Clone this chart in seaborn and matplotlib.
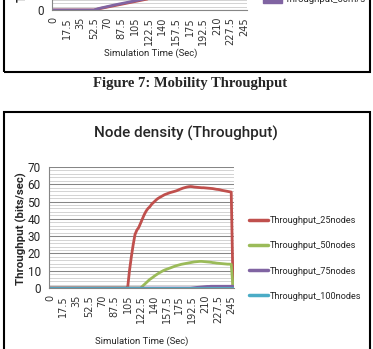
import numpy as np
import pandas as pd
import matplotlib
matplotlib.use("Agg")
import matplotlib.pyplot as plt
import seaborn as sns
from matplotlib.patches import Rectangle
from matplotlib.ticker import MultipleLocator, FixedLocator, FixedFormatter

sns.set_style("white")
plt.rcParams['font.family'] = ['Roboto', 'DejaVu Sans']

# ---------------- data: main chart ----------------
times = [i * 2.5 for i in range(100)]  # categories 0 .. 247.5 (sec)
tick_labels = ["0", "17.5", "35", "52.5", "70", "87.5", "105", "122.5", "140",
               "157.5", "175", "192.5", "210", "227.5", "245"]

thr_25 = [0, 0, 0, 0, 0, 0, 0, 0, 0, 0,
          0, 0, 0, 0, 0, 0, 0, 0, 0, 0,
          0, 0, 0, 0, 0, 0, 0, 0, 0, 0,
          0, 0, 0, 0, 0, 0, 0, 0, 0, 0,
          0, 0, 0, 10, 18, 25, 31, 33.5, 35, 37.5,
          40, 42.5, 44.5, 46, 47, 48.5, 49.5, 50.5, 51.5, 52.2,
          52.8, 53.4, 54, 54.4, 54.8, 55.2, 55.5, 55.8, 56.1, 56.5,
          57, 57.4, 57.8, 58.1, 58.4, 58.6, 58.7, 58.6, 58.4, 58.3,
          58.2, 58.1, 58, 58, 57.9, 57.8, 57.7, 57.6, 57.5, 57.3,
          57.1, 57, 56.8, 56.5, 56.3, 56.1, 55.9, 55.7, 55.5, 0]
thr_50 = [0, 0, 0, 0, 0, 0, 0, 0, 0, 0,
          0, 0, 0, 0, 0, 0, 0, 0, 0, 0,
          0, 0, 0, 0, 0, 0, 0, 0, 0, 0,
          0, 0, 0, 0, 0, 0, 0, 0, 0, 0,
          0, 0, 0, 0, 0, 0, 0, 0, 0, 0,
          1, 2, 3, 4, 5, 5.7, 6.5, 7.3, 8, 8.7,
          9.3, 9.9, 10.4, 10.8, 11.2, 11.6, 12, 12.4, 12.8, 13.1,
          13.4, 13.7, 13.9, 14.1, 14.3, 14.5, 14.7, 14.9, 15.1, 15.2,
          15.3, 15.4, 15.4, 15.3, 15.2, 15.1, 15, 14.9, 14.7, 14.6,
          14.4, 14.3, 14.2, 14.1, 14, 13.9, 13.8, 13.8, 13.7, 0]
thr_75 = [0, 0, 0, 0, 0, 0, 0, 0, 0, 0,
          0, 0, 0, 0, 0, 0, 0, 0, 0, 0,
          0, 0, 0, 0, 0, 0, 0, 0, 0, 0,
          0, 0, 0, 0, 0, 0, 0, 0, 0, 0,
          0, 0, 0, 0, 0, 0, 0, 0, 0, 0,
          0, 0, 0, 0, 0, 0, 0, 0, 0, 0,
          0, 0, 0, 0, 0, 0, 0, 0, 0, 0,
          0, 0, 0, 0, 0, 0, 0, 0.1, 0.2, 0.3,
          0.4, 0.5, 0.6, 0.7, 0.8, 0.9, 0.9, 1, 1, 1,
          1, 1, 1, 1, 1, 1, 1, 1, 1, 1]
thr_100 = [0] * 100

series_names = ["Throughput_25nodes", "Throughput_50nodes",
                "Throughput_75nodes", "Throughput_100nodes"]
series_colors = ["#C0504D", "#9BBB59", "#8064A2", "#4BACC6"]

# ---------------- data: partial previous chart (top) ----------------
top_times = [0, 52.5, 60, 80, 100, 120, 140, 245]
top_red = [0, 0, 0.8, 2.6, 4.4, 6.2, 8, 40]
top_purple = [0, 0, 1.0, 3.0, 4.8, 6.6, 8.5, 40]
top_names = ["Throughput_50m/s"]

W, H = 373, 349
fig = plt.figure(figsize=(W / 100, H / 100), dpi=100)


def fx(x):
    return x / W


def fy(y):
    return 1 - y / H


def style_axes(a):
    a.set_xlim(-1.25, 248.75)
    a.set_ylim(0, 70)
    a.yaxis.set_major_locator(MultipleLocator(10))
    a.yaxis.set_minor_locator(MultipleLocator(2))
    a.grid(True, which="major", axis="y", color="#868686", lw=0.75)
    a.grid(True, which="minor", axis="y", color="#cccccc", lw=0.6)
    a.xaxis.set_major_locator(FixedLocator([i * 17.5 for i in range(15)]))
    a.xaxis.set_major_formatter(FixedFormatter(tick_labels))
    a.xaxis.set_minor_locator(MultipleLocator(2.5))
    a.tick_params(axis="x", which="both", length=3, color="#868686",
                  labelsize=7, labelrotation=90, labelcolor="#333333", pad=2)
    a.tick_params(axis="y", which="major", length=3, color="#868686",
                  labelsize=8.5, pad=3)
    a.tick_params(axis="y", which="minor", length=0)
    for lab in a.get_xticklabels():
        lab.set_family("DejaVu Sans")
    for s in ["top", "right"]:
        a.spines[s].set_visible(False)
    a.spines["left"].set_color("#868686")
    a.spines["bottom"].set_color("#868686")
    a.set_xlabel("")
    a.set_ylabel("")


# ---------- top partial chart ----------
axt = fig.add_axes([fx(52), fy(10), fx(247) - fx(52), 122 / H])
dft = pd.DataFrame({"t": top_times * 2,
                    "v": top_red + top_purple,
                    "s": ["r"] * len(top_times) + ["p"] * len(top_times)})
sns.lineplot(data=dft, x="t", y="v", hue="s", palette=["#C0504D", "#8064A2"],
             ax=axt, legend=False, linewidth=2, sort=False)
style_axes(axt)
axt.set_yticks([0])
axt.set_yticklabels(["0"])
for lab in axt.get_xticklabels():
    lab.set_family("DejaVu Sans")
fig.text(fx(22), fy(2), "T", rotation=90, ha="center", va="bottom",
         fontsize=8.5, fontweight="bold")
fig.text(fx(151), fy(53), "Simulation Time (Sec)", ha="center", va="center",
         fontsize=6.8)
fig.patches.append(Rectangle((fx(263), fy(3)), fx(19), 6 / H,
                             transform=fig.transFigure, color="#8064A2"))
fig.text(fx(285), fy(0), top_names[0], ha="left", va="center", fontsize=6.8)
fig.patches.append(Rectangle((fx(4), fy(72)), fx(366), 100 / H,
                             transform=fig.transFigure, fill=False,
                             edgecolor="black", lw=1.5))
fig.text(fx(190), fy(83), "Figure 7: Mobility Throughput", ha="center",
         va="center", fontsize=10.5, fontweight="bold",
         family=["Liberation Serif", "DejaVu Serif"])

# ---------- main chart ----------
ax = fig.add_axes([fx(49), fy(288), fx(234) - fx(49), 121 / H])
df = pd.DataFrame({
    "time": times * 4,
    "thr": thr_25 + thr_50 + thr_75 + thr_100,
    "series": sum([[n] * len(times) for n in series_names], []),
})
sns.lineplot(data=df, x="time", y="thr", hue="series", hue_order=series_names,
             palette=series_colors, ax=ax, linewidth=2, sort=False, legend=False)
style_axes(ax)
for ln in ax.get_lines():
    ln.set_solid_capstyle("round")

fig.text(fx(186), fy(133), "Node density (Throughput)", ha="center",
         va="center", fontsize=11, fontweight="medium")
fig.text(fx(21), fy(229), "Throughput (bits/sec)", rotation=90, ha="center",
         va="center", fontsize=8.2, fontweight="bold")
fig.text(fx(142), fy(341), "Simulation Time (Sec)", ha="center", va="center",
         fontsize=6.8)

handles = [plt.Line2D([], [], color=c, lw=2.5) for c in series_colors]
fig.legend(handles, series_names, loc="center left",
           bbox_to_anchor=(fx(249), fy(258.5)), frameon=False, fontsize=6.6,
           borderpad=0, borderaxespad=0, handlelength=2.1, handletextpad=0.2,
           labelspacing=1.75)

fig.patches.append(Rectangle((fx(4), fy(360)), fx(366), 248 / H,
                             transform=fig.transFigure, fill=False,
                             edgecolor="black", lw=1.5))

fig.savefig("out.png", dpi=100)
